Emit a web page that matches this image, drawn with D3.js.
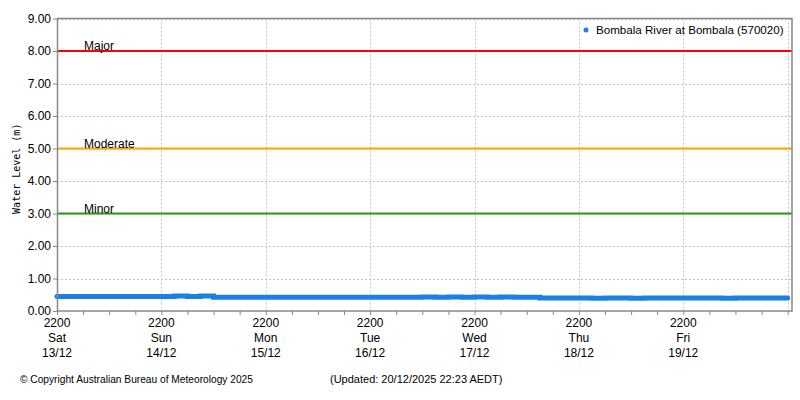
<!DOCTYPE html>
<html>
<head>
<meta charset="utf-8">
<script src="https://cdn.jsdelivr.net/npm/d3@7"></script>
<style>
body { margin: 0; background: #fff; }
svg text { font-family: "Liberation Sans", Arial, sans-serif; fill: #000; }
</style>
</head>
<body>
<div id="viz"></div>
<script>
// water level, 3-hourly readings from 2200 Sat 13/12
var levels = [
	0.45, 0.45, 0.45, 0.45, 0.45, 0.45, 0.45, 0.45,
	0.45, 0.46, 0.45, 0.46, 0.42, 0.42, 0.42, 0.42,
	0.42, 0.42, 0.42, 0.42, 0.42, 0.42, 0.42, 0.42,
	0.42, 0.42, 0.42, 0.42, 0.43, 0.42, 0.43, 0.42,
	0.43, 0.42, 0.43, 0.42, 0.42, 0.40, 0.40, 0.40,
	0.40, 0.39, 0.40, 0.40, 0.39, 0.40, 0.40, 0.40,
	0.40, 0.40, 0.40, 0.39, 0.40, 0.40, 0.40, 0.40,
	0.40
];
var startTime = new Date(2025, 11, 13, 22, 0);
var endTime = new Date(2025, 11, 20, 23, 0);
var stepHours = 3;

var dayNames = ["Sun", "Mon", "Tue", "Wed", "Thu", "Fri", "Sat"];
var yTicks = [0, 1, 2, 3, 4, 5, 6, 7, 8, 9];

var thresholds = [
	{name: "Major", value: 8, color: "#ff0000"},
	{name: "Moderate", value: 5, color: "#ffa500"},
	{name: "Minor", value: 3, color: "#2e9a14"}
];

var seriesName = "Bombala River at Bombala (570020)";
var copyright = "\u00a9 Copyright Australian Bureau of Meteorology 2025";
var updated = "(Updated: 20/12/2025 22:23 AEDT)";

var W = 800, H = 400;
var m = {left: 57, top: 18.5, right: 792, bottom: 311};

var svg = d3.select("#viz")
	.append("svg")
	.attr("width", W)
	.attr("height", H);

var x = d3.scaleTime().domain([startTime, endTime]).range([m.left, m.right]);
var y = d3.scaleLinear().domain([0, 9]).range([m.bottom, m.top]);

var data = levels.map(function(v, i){
	return {t: d3.timeHour.offset(startTime, i * stepHours), v: v};
});

var dayTicks = d3.timeHour.range(startTime, d3.timeHour.offset(endTime, 1), 24);
var sixTicks = d3.timeHour.range(startTime, d3.timeHour.offset(endTime, 1), 6);

// grid
svg.append("g").selectAll("line")
	.data(yTicks.slice(1))
	.enter().append("line")
	.attr("x1", m.left).attr("x2", m.right)
	.attr("y1", function(d){return Math.round(y(d)) + 0.5})
	.attr("y2", function(d){return Math.round(y(d)) + 0.5})
	.attr("stroke", "#c4c4c4").attr("stroke-dasharray", "2,2");

svg.append("g").selectAll("line")
	.data(dayTicks.slice(1))
	.enter().append("line")
	.attr("x1", function(d){return Math.round(x(d)) + 0.5})
	.attr("x2", function(d){return Math.round(x(d)) + 0.5})
	.attr("y1", m.top).attr("y2", m.bottom)
	.attr("stroke", "#c4c4c4").attr("stroke-dasharray", "2,2");

// thresholds
var th = svg.append("g").selectAll("g")
	.data(thresholds)
	.enter().append("g");
th.append("line")
	.attr("x1", m.left).attr("x2", m.right)
	.attr("y1", function(d){return y(d.value)})
	.attr("y2", function(d){return y(d.value)})
	.attr("stroke", function(d){return d.color})
	.attr("stroke-width", 2);
th.append("text")
	.attr("x", 84)
	.attr("y", function(d){return y(d.value) - 1})
	.style("font-size", "12px")
	.text(function(d){return d.name});

// series
var line = d3.line()
	.curve(d3.curveStepAfter)
	.x(function(d){return x(d.t)})
	.y(function(d){return y(d.v)});

svg.append("path")
	.datum(data)
	.attr("d", line)
	.attr("fill", "none")
	.attr("stroke", "#1a80e6")
	.attr("stroke-width", 5)
	.attr("stroke-linecap", "round");

// frame
svg.append("rect")
	.attr("x", m.left + 0.5).attr("y", m.top)
	.attr("width", m.right - m.left - 0.5).attr("height", m.bottom - m.top)
	.attr("fill", "none").attr("stroke", "#888").attr("stroke-width", 1.5);

// y axis
var yAxis = d3.axisLeft(y)
	.tickValues(yTicks)
	.tickSize(4)
	.tickPadding(2)
	.tickFormat(d3.format(".2f"));
var yg = svg.append("g")
	.attr("transform", "translate(" + m.left + ",0)")
	.call(yAxis);
yg.select(".domain").remove();
yg.selectAll("line").attr("stroke", "#888");
yg.selectAll("text").style("font-size", "12px").style("font-family", "Liberation Sans, Arial, sans-serif");

// x axis
var xg = svg.append("g")
	.attr("transform", "translate(0," + m.bottom + ")")
	.call(d3.axisBottom(x).tickValues(sixTicks).tickSize(4).tickFormat(""));
xg.select(".domain").remove();
xg.selectAll("line").attr("stroke", "#888");

var labels = svg.append("g").selectAll("text")
	.data(dayTicks.slice(0, 7))
	.enter().append("text")
	.attr("x", function(d){return x(d)})
	.attr("y", m.bottom + 16)
	.attr("text-anchor", "middle")
	.style("font-size", "12px");
labels.append("tspan").attr("x", function(d){return x(d)}).attr("dy", 0)
	.text(function(d){return d3.timeFormat("%H%M")(d)});
labels.append("tspan").attr("x", function(d){return x(d)}).attr("dy", 15)
	.text(function(d){return dayNames[d.getDay()]});
labels.append("tspan").attr("x", function(d){return x(d)}).attr("dy", 15)
	.text(function(d){return d3.timeFormat("%d/%m")(d)});

// y title
svg.append("text")
	.attr("transform", "translate(20," + ((m.top + m.bottom) / 2 + 4) + ") rotate(-90)")
	.attr("text-anchor", "middle")
	.style("font-family", "DejaVu Sans Mono, monospace")
	.style("font-size", "10px")
	.style("fill", "#000")
	.text("Water Level (m)");

// legend
svg.append("circle").attr("cx", 586).attr("cy", 30).attr("r", 2.5).attr("fill", "#1a80e6");
svg.append("text").attr("x", 596).attr("y", 34)
	.style("font-size", "11.6px")
	.text(seriesName);

// footer
svg.append("text").attr("x", 20).attr("y", 383)
	.style("font-size", "10.2px")
	.text(copyright);
svg.append("text").attr("x", 330).attr("y", 383)
	.style("font-size", "11px")
	.text(updated);
</script>
</body>
</html>
